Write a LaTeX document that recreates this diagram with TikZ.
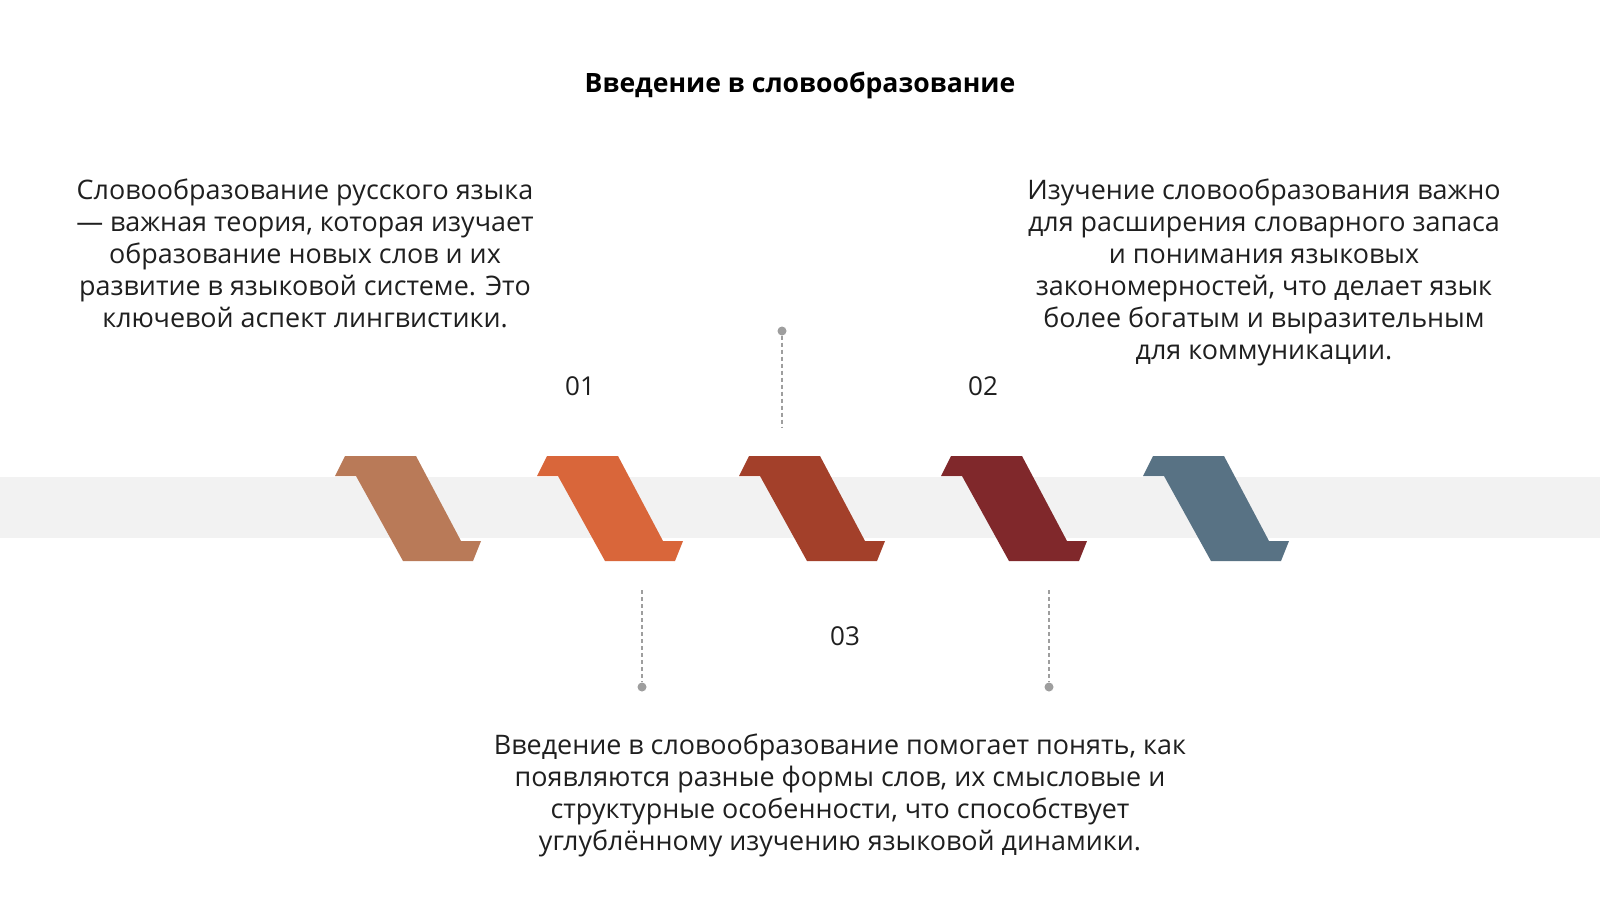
\documentclass[tikz,border=0pt]{standalone}
\usepackage{fontspec}
\setmainfont{Open Sans}
\definecolor{textc}{HTML}{1F1F1F}
\definecolor{leadc}{HTML}{9E9E9E}
\definecolor{bandc}{HTML}{F2F2F2}
\definecolor{c1}{HTML}{B97A58}
\definecolor{c2}{HTML}{D9663A}
\definecolor{c3}{HTML}{A3402A}
\definecolor{c4}{HTML}{80282B}
\definecolor{c5}{HTML}{587284}
\begin{document}
\begin{tikzpicture}[x=1pt,y=-1pt,
  txt/.style={font=\fontsize{26.9}{32}\selectfont, text=textc, align=center, inner sep=0pt, anchor=north},
  num/.style={font=\fontsize{26}{30}\selectfont, text=textc, inner sep=0pt, anchor=base},
  lead/.style={draw=leadc, line width=1.3pt, dash pattern=on 4pt off 3pt},
  dotnode/.style={circle, fill=leadc, inner sep=0pt, minimum size=9pt}]
\useasboundingbox (0,0) rectangle (1600,900);
\fill[white] (0,0) rectangle (1600,900);
\fill[bandc] (0,477) rectangle (1600,538);
\foreach \i/\c in {0/c1,1/c2,2/c3,3/c4,4/c5}{
  \fill[\c, shift={(345+202*\i,456)}] (0,0) -- (71,0) -- (116,85) -- (136,85) -- (128,105) -- (58,105) -- (11,20) -- (-10,20) -- cycle;
}
\node[font=\fontsize{26.6}{30}\selectfont\bfseries, text=black, anchor=base, inner sep=0pt] (title) at (800,92) {Введение в словообразование};
\node[txt] (t1) at (305,179) {Словообразование русского языка\\— важная теория, которая изучает\\образование новых слов и их\\развитие в языковой системе. Это\\ключевой аспект лингвистики.};
\node[txt] (t2) at (1264,179) {Изучение словообразования важно\\для расширения словарного запаса\\и понимания языковых\\закономерностей, что делает язык\\более богатым и выразительным\\для коммуникации.};
\node[txt] (t3) at (840,734) {Введение в словообразование помогает понять, как\\появляются разные формы слов, их смысловые и\\структурные особенности, что способствует\\углублённому изучению языковой динамики.};
\node[num] (n1) at (580,395) {01};
\node[num] (n2) at (983,395) {02};
\node[num] (n3) at (845,645) {03};
\node[dotnode] (d1) at (782,331) {};
\coordinate (e1) at (782,427);
\draw[lead] (d1) -- (e1);
\node[dotnode] (d2) at (642,687) {};
\coordinate (e2) at (642,590);
\draw[lead] (e2) -- (d2);
\node[dotnode] (d3) at (1049,687) {};
\coordinate (e3) at (1049,590);
\draw[lead] (e3) -- (d3);
\end{tikzpicture}
\end{document}
